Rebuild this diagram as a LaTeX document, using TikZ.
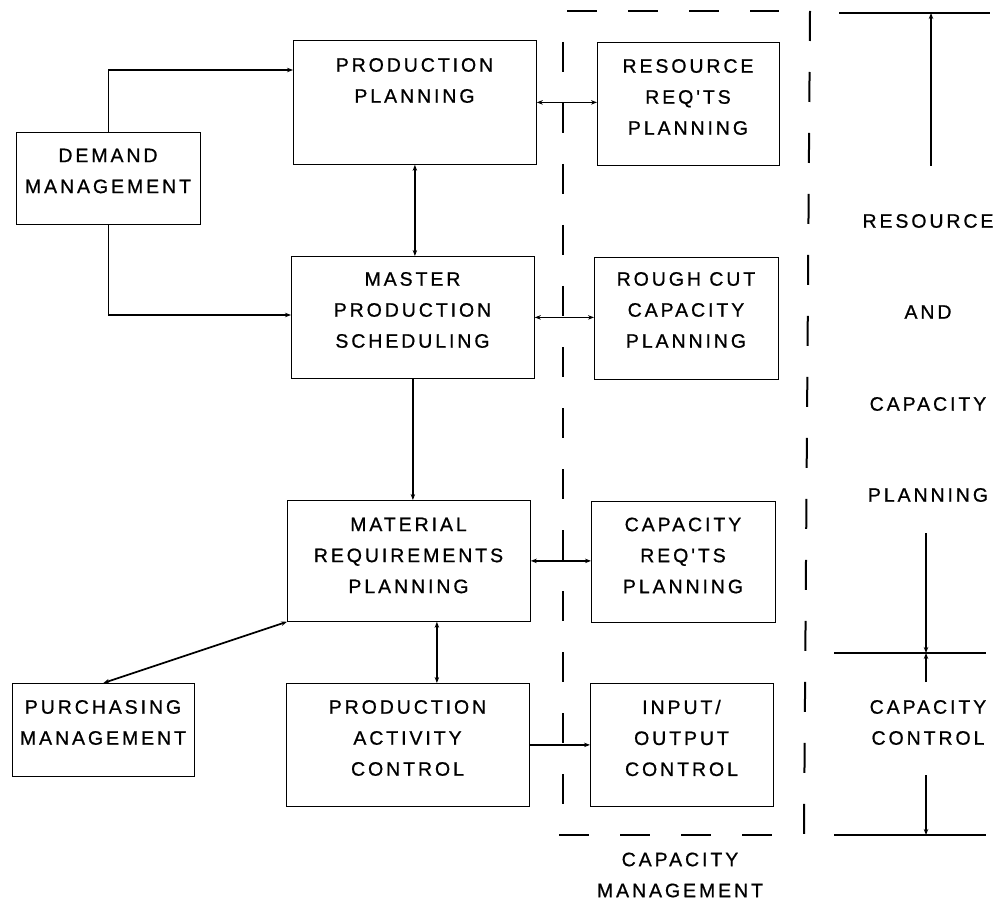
\documentclass[tikz,border=0pt]{standalone}
\usepackage{fontspec}
\setmainfont{Liberation Sans}[LetterSpace=15, Ligatures=TeXOff, FakeBold=0.8]
\usetikzlibrary{arrows.meta,calc}
\tikzset{
  box/.style={draw, line width=0.8pt, inner sep=0pt, anchor=north west},
  lbl/.style={align=center, font=\fontsize{19.5}{31}\selectfont, inner sep=0pt},
  con/.style={line width=1.7pt},
  tipe/.style={-{Stealth[length=6pt,width=4.5pt]}},
  tipb/.style={{Stealth[length=6pt,width=4.5pt]}-{Stealth[length=6pt,width=4.5pt]}},
  dsh/.style={line width=2pt, dash pattern=on 30pt off 31pt},
  bar/.style={line width=2.4pt},
}
\begin{document}
\begin{tikzpicture}[x=1pt,y=-1pt]
\useasboundingbox (0,0) rectangle (1004,901);
% boxes
\node[box, minimum width=243pt, minimum height=124pt] (pp)   at (293,40)  {};
\node[box, minimum width=184pt, minimum height=92pt]  (dm)   at (16,132)  {};
\node[box, minimum width=243pt, minimum height=122pt] (mps)  at (291,256) {};
\node[box, minimum width=243pt, minimum height=121pt] (mrp)  at (287,500) {};
\node[box, minimum width=243pt, minimum height=123pt] (pac)  at (286,683) {};
\node[box, minimum width=182pt, minimum height=93pt]  (pm)   at (12,683)  {};
\node[box, minimum width=182pt, minimum height=123pt] (rrp)  at (597,42)  {};
\node[box, minimum width=184pt, minimum height=122pt] (rccp) at (594,257) {};
\node[box, minimum width=184pt, minimum height=121pt] (crp)  at (591,501) {};
\node[box, minimum width=183pt, minimum height=123pt] (ioc)  at (590,683) {};
% texts
\node[lbl] (tpp)   at (414.5,80.5) {PRODUCTION\\PLANNING};
\node[lbl] (tdm)   at (108,171)    {DEMAND\\MANAGEMENT};
\node[lbl] (tmps)  at (412.5,310)  {MASTER\\PRODUCTION\\SCHEDULING};
\node[lbl] (tmrp)  at (408.5,555.5){MATERIAL\\REQUIREMENTS\\PLANNING};
\node[lbl] (tpac)  at (407.5,738)  {PRODUCTION\\ACTIVITY\\CONTROL};
\node[lbl] (tpm)   at (103,722.5)  {PURCHASING\\MANAGEMENT};
\node[lbl] (trrp)  at (688,97)     {RESOURCE\\REQ'TS\\PLANNING};
\node[lbl] (trccp) at (686,310)    {ROUGH CUT\\CAPACITY\\PLANNING};
\node[lbl] (tcrp)  at (683,555.5)  {CAPACITY\\REQ'TS\\PLANNING};
\node[lbl] (tioc)  at (681.5,738)  {INPUT/\\OUTPUT\\CONTROL};
\node[lbl] (tcm)   at (680,875)    {CAPACITY\\MANAGEMENT};
\node[lbl] (tres)  at (928,221)    {RESOURCE};
\node[lbl] (tand)  at (928,312)    {AND};
\node[lbl] (tcap)  at (928,404)    {CAPACITY};
\node[lbl] (tpln)  at (928,495)    {PLANNING};
\node[lbl] (tcc)   at (928,722.5)  {CAPACITY\\CONTROL};
% connectors
\draw[con,tipe] (dm.north) |- ([yshift=-30pt]pp.north west);
\draw[con,tipe] (dm.south) |- ([yshift=-59pt]mps.north west);
\draw[con,tipb] (pp.south) -- (pp.south |- mps.north);
\draw[con,tipe] (mps.south) -- (mps.south |- mrp.north);
\draw[con,tipb] ([xshift=28pt]mrp.south) -- ([xshift=28pt]mrp.south |- pac.north);
\draw[con,tipb] (mrp.south west) -- (pm.north);
\draw[con,tipb] (pp.east) -- (pp.east -| rrp.west);
\draw[con,tipb] (mps.east) -- (mps.east -| rccp.west);
\draw[con,tipb] (mrp.east) -- (mrp.east -| crp.west);
\draw[con,tipe] (pac.east) -- (pac.east -| ioc.west);
% dashed capacity management frame
\coordinate (dt1) at (567,11);  \coordinate (dt2) at (779,11);
\coordinate (dl1) at (563,42);  \coordinate (dl2) at (563,805);
\coordinate (db1) at (559,835); \coordinate (db2) at (773,835);
\coordinate (dr1) at (810,11);  \coordinate (dr2) at (804,835);
\draw[dsh] (dt1) -- (dt2);
\draw[dsh] (dl1) -- (dl2);
\draw[dsh] (db1) -- (db2);
\draw[dsh] (dr1) -- (dr2);
% right-hand scale
\coordinate (h1a) at (839,13);  \coordinate (h1b) at (990,13);
\coordinate (h2a) at (834,653); \coordinate (h2b) at (986,653);
\coordinate (h3a) at (834,835); \coordinate (h3b) at (986,835);
\draw[bar] (h1a) -- (h1b);
\draw[bar] (h2a) -- (h2b);
\draw[bar] (h3a) -- (h3b);
\coordinate (v1) at (931,166);
\coordinate (v2) at (926,533);
\coordinate (v3) at (926,682);
\coordinate (v4) at (926,775);
\draw[con,tipe] (v1) -- (v1 |- h1a);
\draw[con,tipe] (v2) -- (v2 |- h2a);
\draw[con,tipe] (v3) -- (v3 |- h2a);
\draw[con,tipe] (v4) -- (v4 |- h3a);
\end{tikzpicture}
\end{document}
